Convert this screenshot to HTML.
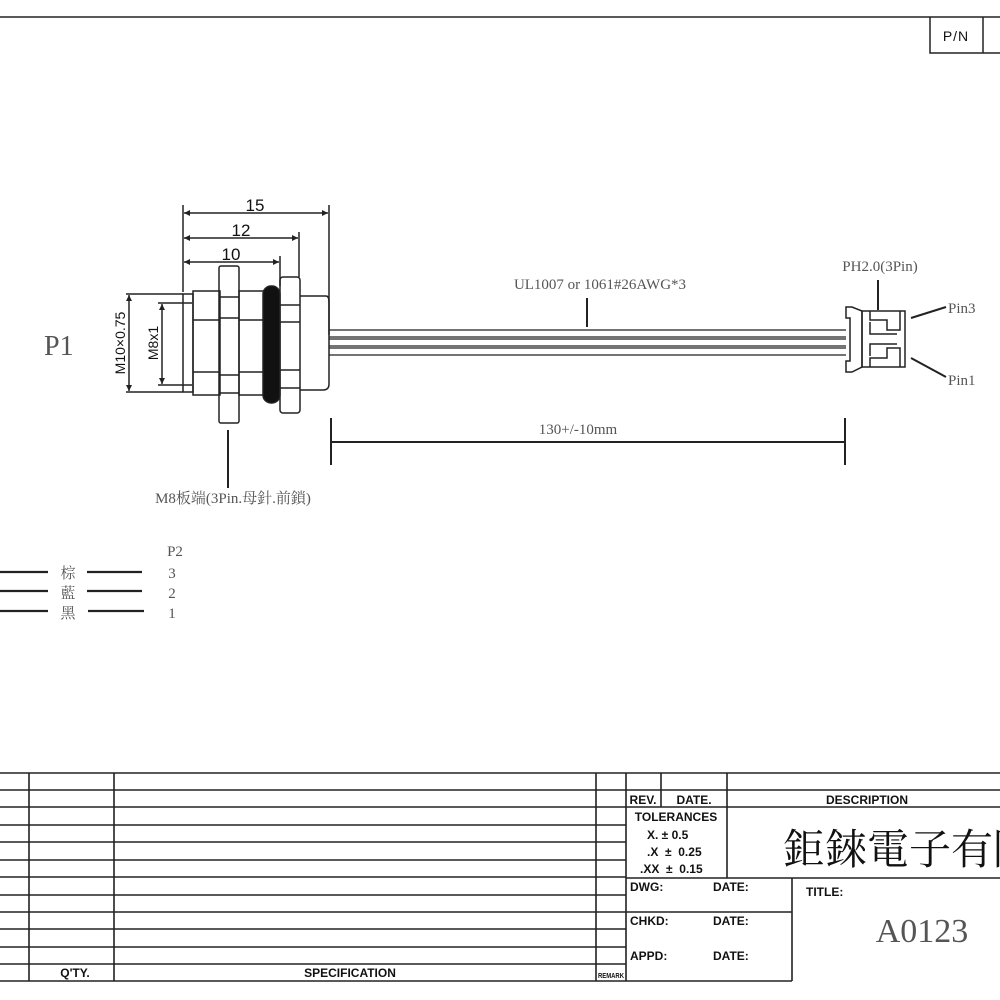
<!DOCTYPE html>
<html><head><meta charset="utf-8"><style>
html,body{margin:0;padding:0;background:#fff;width:1000px;height:1000px;overflow:hidden}
svg{display:block}
.s{font-family:"Liberation Serif","Noto Serif CJK SC","Noto Sans CJK TC",serif;fill:#555}
.a{font-family:"Liberation Sans","Noto Sans CJK TC",sans-serif;fill:#111;font-weight:bold}
</style></head><body>
<svg width="1000" height="1000" viewBox="0 0 1000 1000" xmlns="http://www.w3.org/2000/svg">
<defs><marker id="ar" viewBox="0 0 10 10" refX="10" refY="5" markerWidth="8" markerHeight="6" orient="auto-start-reverse" markerUnits="userSpaceOnUse"><path d="M0,0L10,5L0,10z" fill="#222"/></marker></defs>
<g stroke="#222" fill="none" stroke-width="1.5">
<!-- top border -->
<line x1="0" y1="17" x2="1000" y2="17"/>
<polyline points="930,17 930,53 1000,53"/>
<line x1="983" y1="17" x2="983" y2="53"/>
<!-- dimensions -->
<line x1="183" y1="205" x2="183" y2="292"/>
<line x1="329" y1="205" x2="329" y2="335"/>
<line x1="299" y1="232" x2="299" y2="277"/>
<line x1="280" y1="256" x2="280" y2="286"/>
<line x1="184" y1="213" x2="328" y2="213" marker-start="url(#ar)" marker-end="url(#ar)"/>
<line x1="184" y1="238" x2="298" y2="238" marker-start="url(#ar)" marker-end="url(#ar)"/>
<line x1="184" y1="262" x2="279" y2="262" marker-start="url(#ar)" marker-end="url(#ar)"/>
<line x1="126" y1="294" x2="183" y2="294"/>
<line x1="126" y1="392" x2="183" y2="392"/>
<line x1="129" y1="295" x2="129" y2="391" marker-start="url(#ar)" marker-end="url(#ar)"/>
<line x1="158" y1="303" x2="192" y2="303"/>
<line x1="158" y1="385" x2="192" y2="385"/>
<line x1="162" y1="304" x2="162" y2="384" marker-start="url(#ar)" marker-end="url(#ar)"/>
<!-- connector body -->
<rect x="183" y="294" width="10" height="98"/>
<rect x="193" y="291" width="27" height="104"/>
<line x1="193" y1="320" x2="220" y2="320"/><line x1="193" y1="372" x2="220" y2="372"/>
<rect x="219" y="266" width="20" height="157" rx="2"/>
<line x1="219" y1="297" x2="239" y2="297"/><line x1="219" y1="318" x2="239" y2="318"/>
<line x1="219" y1="375" x2="239" y2="375"/><line x1="219" y1="393" x2="239" y2="393"/>
<rect x="239" y="291" width="25" height="104"/>
<line x1="239" y1="320" x2="264" y2="320"/><line x1="239" y1="372" x2="264" y2="372"/>
<rect x="263" y="286" width="17" height="117" rx="8" fill="#111"/>
<rect x="280" y="277" width="20" height="136" rx="3"/>
<line x1="280" y1="305" x2="300" y2="305"/><line x1="280" y1="322" x2="300" y2="322"/>
<line x1="280" y1="370" x2="300" y2="370"/><line x1="280" y1="388" x2="300" y2="388"/>
<path d="M300,296 H326 Q329,296 329,302 V384 Q329,390 323,390 H300"/>
<!-- wires -->
<g stroke-width="1.3">
<line x1="329" y1="330" x2="846" y2="330"/><line x1="329" y1="337" x2="846" y2="337"/>
<line x1="329" y1="339" x2="846" y2="339"/><line x1="329" y1="346" x2="846" y2="346"/>
<line x1="329" y1="348" x2="846" y2="348"/><line x1="329" y1="355" x2="846" y2="355"/>
</g>
<line x1="587" y1="298" x2="587" y2="327" stroke-width="2"/>
<!-- 130 dim -->
<line x1="331" y1="418" x2="331" y2="465" stroke-width="2"/>
<line x1="845" y1="418" x2="845" y2="465" stroke-width="2"/>
<line x1="331" y1="442" x2="845" y2="442" stroke-width="2"/>
<line x1="228" y1="430" x2="228" y2="488" stroke-width="2"/>
<!-- PH connector -->
<path d="M846,307 H852 L862,311 V367 L852,372 H846 V361 H850 V318 H846 Z"/>
<rect x="862" y="311" width="43" height="56"/>
<path d="M870,311 V320 H887 V330 H900 V311"/>
<path d="M870,367 V358 H887 V348 H900 V367"/>
<path d="M870,322 V334 H897 M870,356 V344 H897"/>
<line x1="878" y1="280" x2="878" y2="310" stroke-width="2"/>
<line x1="911" y1="318" x2="946" y2="307" stroke-width="2"/>
<line x1="911" y1="358" x2="946" y2="377" stroke-width="2"/>
<!-- legend -->
<g stroke-width="2.2">
<line x1="0" y1="572" x2="48" y2="572"/><line x1="87" y1="572" x2="142" y2="572"/>
<line x1="0" y1="591" x2="48" y2="591"/><line x1="87" y1="591" x2="142" y2="591"/>
<line x1="0" y1="611" x2="48" y2="611"/><line x1="88" y1="611" x2="144" y2="611"/>
</g>
<!-- bottom table -->
<g stroke-width="1.6">
<line x1="0" y1="773" x2="1000" y2="773"/>
<line x1="0" y1="790" x2="626" y2="790"/><line x1="0" y1="807" x2="626" y2="807"/>
<line x1="0" y1="825" x2="626" y2="825"/><line x1="0" y1="842" x2="626" y2="842"/>
<line x1="0" y1="860" x2="626" y2="860"/><line x1="0" y1="877" x2="626" y2="877"/>
<line x1="0" y1="895" x2="626" y2="895"/><line x1="0" y1="912" x2="626" y2="912"/>
<line x1="0" y1="929" x2="626" y2="929"/><line x1="0" y1="947" x2="626" y2="947"/>
<line x1="0" y1="964" x2="626" y2="964"/><line x1="0" y1="981" x2="792" y2="981"/>
<line x1="29" y1="773" x2="29" y2="981"/><line x1="114" y1="773" x2="114" y2="981"/>
<line x1="596" y1="773" x2="596" y2="981"/><line x1="626" y1="773" x2="626" y2="981"/>
<line x1="661" y1="773" x2="661" y2="807"/><line x1="727" y1="773" x2="727" y2="878"/>
<line x1="626" y1="790" x2="1000" y2="790"/><line x1="626" y1="807" x2="1000" y2="807"/>
<line x1="626" y1="878" x2="1000" y2="878"/><line x1="626" y1="912" x2="792" y2="912"/>
<line x1="792" y1="878" x2="792" y2="981"/>
</g>
</g>
<!-- text -->
<text x="255" y="211" class="a" font-size="17" font-weight="normal" text-anchor="middle" style="font-weight:normal">15</text>
<text x="241" y="236" class="a" font-size="17" text-anchor="middle" style="font-weight:normal">12</text>
<text x="231" y="260" class="a" font-size="17" text-anchor="middle" style="font-weight:normal">10</text>
<text transform="translate(125,343) rotate(-90)" class="a" font-size="14" text-anchor="middle" style="font-weight:normal">M10×0.75</text>
<text transform="translate(158,343) rotate(-90)" class="a" font-size="14" text-anchor="middle" style="font-weight:normal">M8x1</text>
<text x="44" y="355" class="s" font-size="28">P1</text>
<text x="600" y="289" class="s" font-size="15" text-anchor="middle">UL1007 or 1061#26AWG*3</text>
<text x="578" y="434" class="s" font-size="15" text-anchor="middle">130+/-10mm</text>
<text x="233" y="503" class="s" font-size="15" text-anchor="middle">M8板端(3Pin.母針.前鎖)</text>
<text x="880" y="271" class="s" font-size="15" text-anchor="middle">PH2.0(3Pin)</text>
<text x="948" y="313" class="s" font-size="15">Pin3</text>
<text x="948" y="385" class="s" font-size="15">Pin1</text>
<text x="175" y="556" class="s" font-size="15" text-anchor="middle">P2</text>
<text x="68" y="578" class="s" font-size="15" text-anchor="middle">棕</text>
<text x="68" y="598" class="s" font-size="15" text-anchor="middle">藍</text>
<text x="68" y="618" class="s" font-size="15" text-anchor="middle">黑</text>
<text x="172" y="578" class="s" font-size="15" text-anchor="middle">3</text>
<text x="172" y="598" class="s" font-size="15" text-anchor="middle">2</text>
<text x="172" y="618" class="s" font-size="15" text-anchor="middle">1</text>
<text x="956" y="41" class="a" font-size="14" text-anchor="middle" style="font-weight:normal;letter-spacing:1px">P/N</text>
<text x="75" y="977" class="a" font-size="12" text-anchor="middle">Q'TY.</text>
<text x="350" y="977" class="a" font-size="12" text-anchor="middle">SPECIFICATION</text>
<text x="611" y="978" class="a" font-size="7" text-anchor="middle" textLength="26" lengthAdjust="spacingAndGlyphs">REMARK</text>
<text x="643" y="804" class="a" font-size="12" text-anchor="middle">REV.</text>
<text x="694" y="804" class="a" font-size="12" text-anchor="middle">DATE.</text>
<text x="867" y="804" class="a" font-size="12" text-anchor="middle">DESCRIPTION</text>
<text x="676" y="821" class="a" font-size="12" text-anchor="middle">TOLERANCES</text>
<text x="647" y="839" class="a" font-size="12">X.  ±  0.5</text>
<text x="647" y="856" class="a" font-size="12" xml:space="preserve">.X  ±  0.25</text>
<text x="640" y="873" class="a" font-size="12" xml:space="preserve">.XX  ±  0.15</text>
<text x="630" y="891" class="a" font-size="12">DWG:</text>
<text x="713" y="891" class="a" font-size="12">DATE:</text>
<text x="630" y="925" class="a" font-size="12">CHKD:</text>
<text x="713" y="925" class="a" font-size="12">DATE:</text>
<text x="630" y="960" class="a" font-size="12">APPD:</text>
<text x="713" y="960" class="a" font-size="12">DATE:</text>
<text x="806" y="896" class="a" font-size="12">TITLE:</text>
<text x="783" y="864" font-family="'Noto Serif CJK SC','Noto Sans CJK TC',serif" font-size="42" fill="#111">鉅錸電子有限公司</text>
<text x="922" y="942" class="s" font-size="34" text-anchor="middle" fill="#333">A0123</text>
</svg>
</body></html>
